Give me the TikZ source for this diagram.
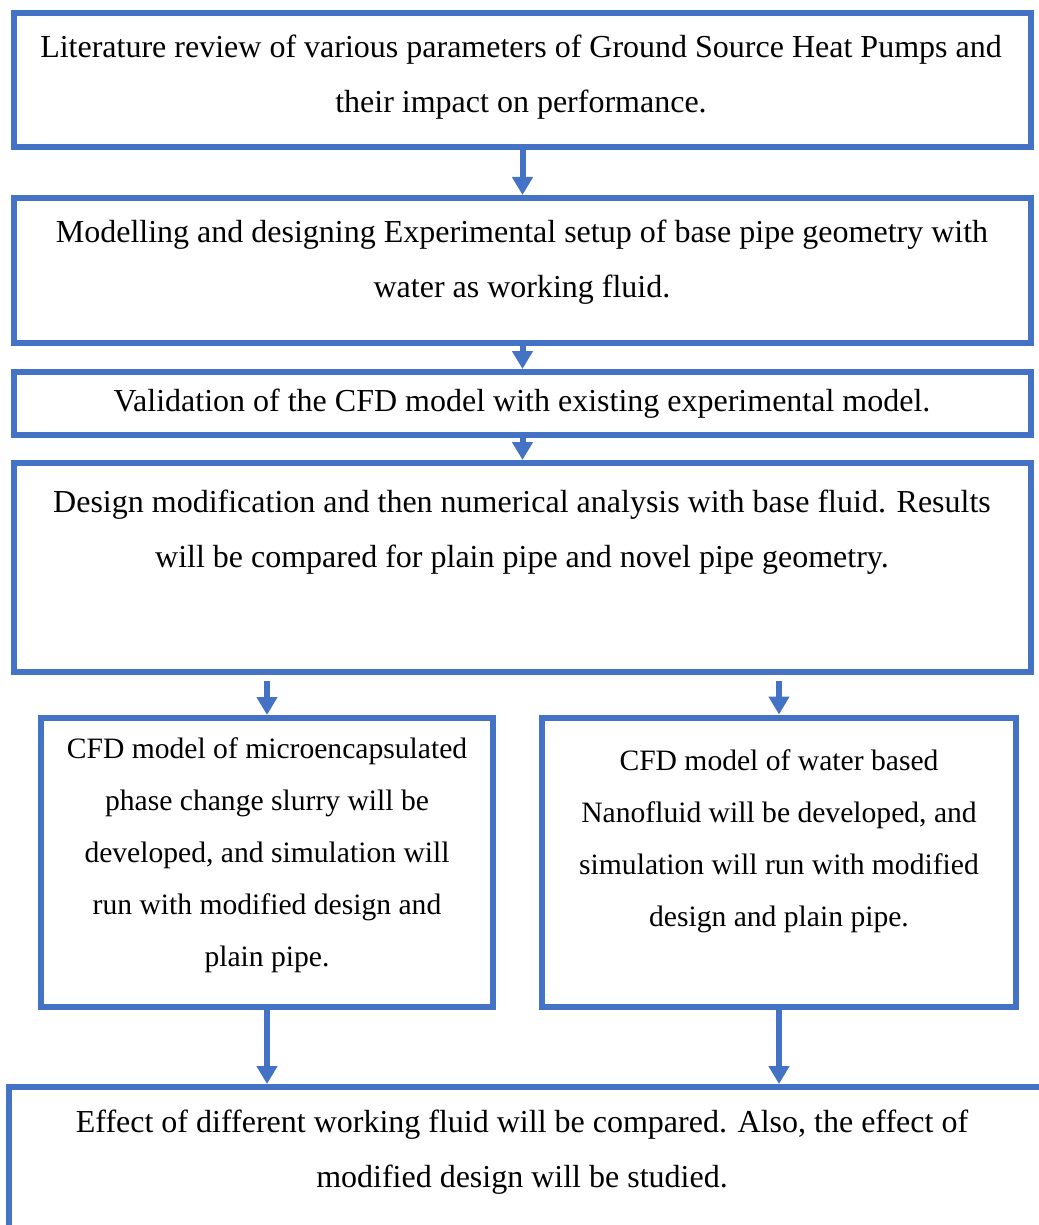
\documentclass[tikz,border=0pt]{standalone}
\usepackage{fontspec}
\setmainfont{Liberation Serif}
\usepackage{xcolor}
\usepackage{tikz}
\usetikzlibrary{arrows.meta}
\definecolor{boxblue}{HTML}{4472C4}

\begin{document}
\begin{tikzpicture}[
	x=0.5pt, y=-0.5pt,
	every node/.style={inner sep=0pt},
	flowbox/.style={shape=rectangle, draw=boxblue, line width=3pt},
	boxtext/.style={align=center, font=\fontsize{16}{27.5}\selectfont},
	smalltext/.style={align=center, font=\fontsize{14.8}{26}\selectfont},
	flowarrow/.style={draw=boxblue, line width=3pt, -{Triangle[width=10pt,length=9pt]}},
]
\useasboundingbox (0,0) rectangle (1038,1225);
% boxes
\node[flowbox, minimum width=508.5pt, minimum height=67pt] (lit) at (522.5,80) {};
\node[flowbox, minimum width=508.5pt, minimum height=72.5pt] (model) at (522.5,270.5) {};
\node[flowbox, minimum width=508.5pt, minimum height=31.5pt] (valid) at (522.5,403.5) {};
\node[flowbox, minimum width=508.5pt, minimum height=104.5pt] (design) at (522.5,567.5) {};
\node[flowbox, minimum width=226pt, minimum height=144.5pt] (slurry) at (267,862.5) {};
\node[flowbox, minimum width=237pt, minimum height=144.5pt] (nano) at (779,862) {};
\node[flowbox, minimum width=525.5pt, minimum height=86.5pt] (effect) at (534.5,1173.5) {};

% texts
\node[boxtext] (littext) at (521,77.5) {Literature review of various parameters of Ground Source Heat Pumps and\\their impact on performance.};
\node[boxtext] (modeltext) at (522,262) {Modelling and designing Experimental setup of base pipe geometry with\\water as working fluid.};
\node[boxtext] (validtext) at (522,404) {Validation of the CFD model with existing experimental model.};
\node[boxtext] (designtext) at (522,532) {Design modification and then numerical analysis with base fluid. Results\\will be compared for plain pipe and novel pipe geometry.};
\node[smalltext] (slurrytext) at (267,855) {CFD model of microencapsulated\\phase change slurry will be\\developed, and simulation will\\run with modified design and\\plain pipe.};
\node[smalltext] (nanotext) at (779,841) {CFD model of water based\\Nanofluid will be developed, and\\simulation will run with modified\\design and plain pipe.};
\node[boxtext] (effecttext) at (522,1152.5) {Effect of different working fluid will be compared. Also, the effect of\\modified design will be studied.};

% arrows
\coordinate (split1) at (267,681);
\coordinate (split2) at (779,681);
\draw[flowarrow] (lit) -- (model);
\draw[flowarrow] (model) -- (valid);
\draw[flowarrow] (valid) -- (design);
\draw[flowarrow] (split1) -- (split1 |- slurry.north);
\draw[flowarrow] (split2) -- (split2 |- nano.north);
\draw[flowarrow] (slurry.south) -- (slurry.south |- effect.north);
\draw[flowarrow] (nano.south) -- (nano.south |- effect.north);
\end{tikzpicture}
\end{document}
